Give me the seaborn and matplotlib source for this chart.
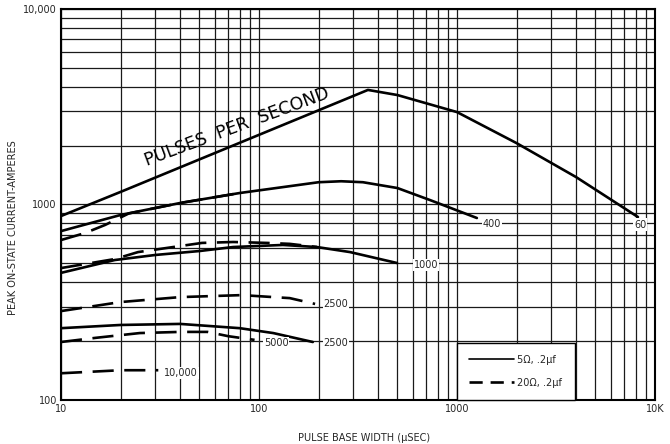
import matplotlib
matplotlib.use("Agg")
import matplotlib.pyplot as plt
from matplotlib.lines import Line2D
import seaborn as sns
import pandas as pd

# ---- data (x: pulse base width in usec, y: peak current A)
x_60_solid = [10, 20, 355, 500, 1000, 2000, 4000, 8200]
y_60_solid = [873, 1160, 3855, 3630, 2970, 2060, 1380, 863]

x_400_solid = [10, 20, 40, 80, 200, 260, 335, 500, 730, 1260]
y_400_solid = [731, 884, 1018, 1145, 1300, 1315, 1300, 1214, 1054, 853]
x_400_dash = [10, 13.2, 16.7, 22, 40, 80]
y_400_dash = [658, 714, 786, 900, 1018, 1145]

x_1000_solid = [10, 18.7, 30, 50, 74, 132, 196, 288, 498]
y_1000_solid = [447, 520, 552, 578, 606, 621, 606, 571, 502]
x_1000_dash = [10, 18.7, 24.5, 51.5, 74, 110, 143, 196]
y_1000_dash = [473, 526, 571, 636, 643, 636, 629, 606]

x_2500_dash = [10, 20, 40, 82, 118, 143, 192]
y_2500_dash = [285, 317, 336, 344, 336, 332, 310]
x_2500_solid = [10, 20, 40, 80, 118, 187]
y_2500_solid = [233, 242, 245, 233, 220, 198]

x_5000_dash = [10, 15, 25, 40, 55, 70, 95]
y_5000_dash = [198, 208, 220, 223, 223, 212, 203]

x_10000_dash = [10, 20, 31]
y_10000_dash = [137, 142, 142]

series = [
    ("60", "5Ω", x_60_solid, y_60_solid),
    ("400", "5Ω", x_400_solid, y_400_solid),
    ("400", "20Ω", x_400_dash, y_400_dash),
    ("1000", "5Ω", x_1000_solid, y_1000_solid),
    ("1000", "20Ω", x_1000_dash, y_1000_dash),
    ("2500", "20Ω", x_2500_dash, y_2500_dash),
    ("2500", "5Ω", x_2500_solid, y_2500_solid),
    ("5000", "20Ω", x_5000_dash, y_5000_dash),
    ("10,000", "20Ω", x_10000_dash, y_10000_dash),
]

# curve labels: (text, x, y)
curve_labels = [
    ("60", 8400, 790),
    ("400", 1500, 794),
    ("1000", 697, 490),
    ("2500", 245, 310),
    ("2500", 245, 196),
    ("5000", 122, 196),
    ("10,000", 40.4, 137),
]

x_ticks = [10, 100, 1000, 10000]
x_ticklabels = ["10", "100", "1000", "10K"]
y_ticks = [100, 1000, 10000]
y_ticklabels = ["100", "1000", "10,000"]
legend_labels = ["5Ω, .2µf", "20Ω, .2µf"]

rows = []
for pps, circ, xs, ys in series:
    for xv, yv in zip(xs, ys):
        rows.append({"pps": pps, "circuit": circ, "curve": pps + "/" + circ,
                     "width": xv, "current": yv})
df = pd.DataFrame(rows)

sns.set_theme(style="white")
plt.rcParams["font.family"] = ["DejaVu Sans"]

fig = plt.figure(figsize=(6.7, 4.44), dpi=100)
ax = fig.add_axes([61 / 670, 44 / 444, 594 / 670, 391 / 444])
ax.set_xscale("log")
ax.set_yscale("log")

dash_pat = (0, (8, 4))
for curve, sub in df.groupby("curve", sort=False):
    circ = sub["circuit"].iloc[0]
    sns.lineplot(data=sub, x="width", y="current", ax=ax, color="black",
                 lw=1.9, sort=False, estimator=None, legend=False,
                 linestyle="-" if circ == "5Ω" else dash_pat, zorder=3)

ax.set_xlim(10, 10000)
ax.set_ylim(100, 10000)
ax.grid(True, which="both", color="#1a1a1a", lw=0.9, zorder=0)
ax.set_axisbelow(True)
for s in ax.spines.values():
    s.set_color("black")
    s.set_linewidth(1.5)

ax.set_xticks(x_ticks)
ax.set_xticklabels(x_ticklabels, fontsize=7)
ax.set_yticks(y_ticks)
ax.set_yticklabels(y_ticklabels, fontsize=7)
ax.tick_params(which="both", length=0, pad=3)
ax.xaxis.set_minor_formatter(plt.NullFormatter())
ax.yaxis.set_minor_formatter(plt.NullFormatter())

ax.set_xlabel("PULSE BASE WIDTH (µSEC)", fontsize=7)
ax.xaxis.set_label_coords(0.51, -0.085)
ax.set_ylabel("PEAK ON-STATE CURRENT-AMPERES", fontsize=7)
ax.yaxis.set_label_coords(-0.072, 0.44)

for txt, xv, yv in curve_labels:
    ax.text(xv, yv, txt, fontsize=7, ha="center", va="center", zorder=5,
            bbox=dict(facecolor="white", edgecolor="none", pad=0.8))

ax.text(77, 2480, "PULSES  PER  SECOND", fontsize=12.5, rotation=20.5,
        ha="center", va="center", zorder=5, color="black")

handles = [Line2D([0], [0], color="black", lw=1.2),
           Line2D([0], [0], color="black", lw=1.9, linestyle=(0, (5, 3)))]
leg = ax.legend(handles, legend_labels, loc="lower left",
                bbox_to_anchor=(0.667, 0.0), fontsize=7, frameon=True,
                fancybox=False, borderaxespad=0, handlelength=4.6,
                borderpad=1.25, labelspacing=1.35, handletextpad=0.35)
leg.get_frame().set_edgecolor("black")
leg.get_frame().set_linewidth(1.0)
leg.get_frame().set_alpha(1)
leg.set_zorder(6)

fig.savefig("out.png", dpi=100)
